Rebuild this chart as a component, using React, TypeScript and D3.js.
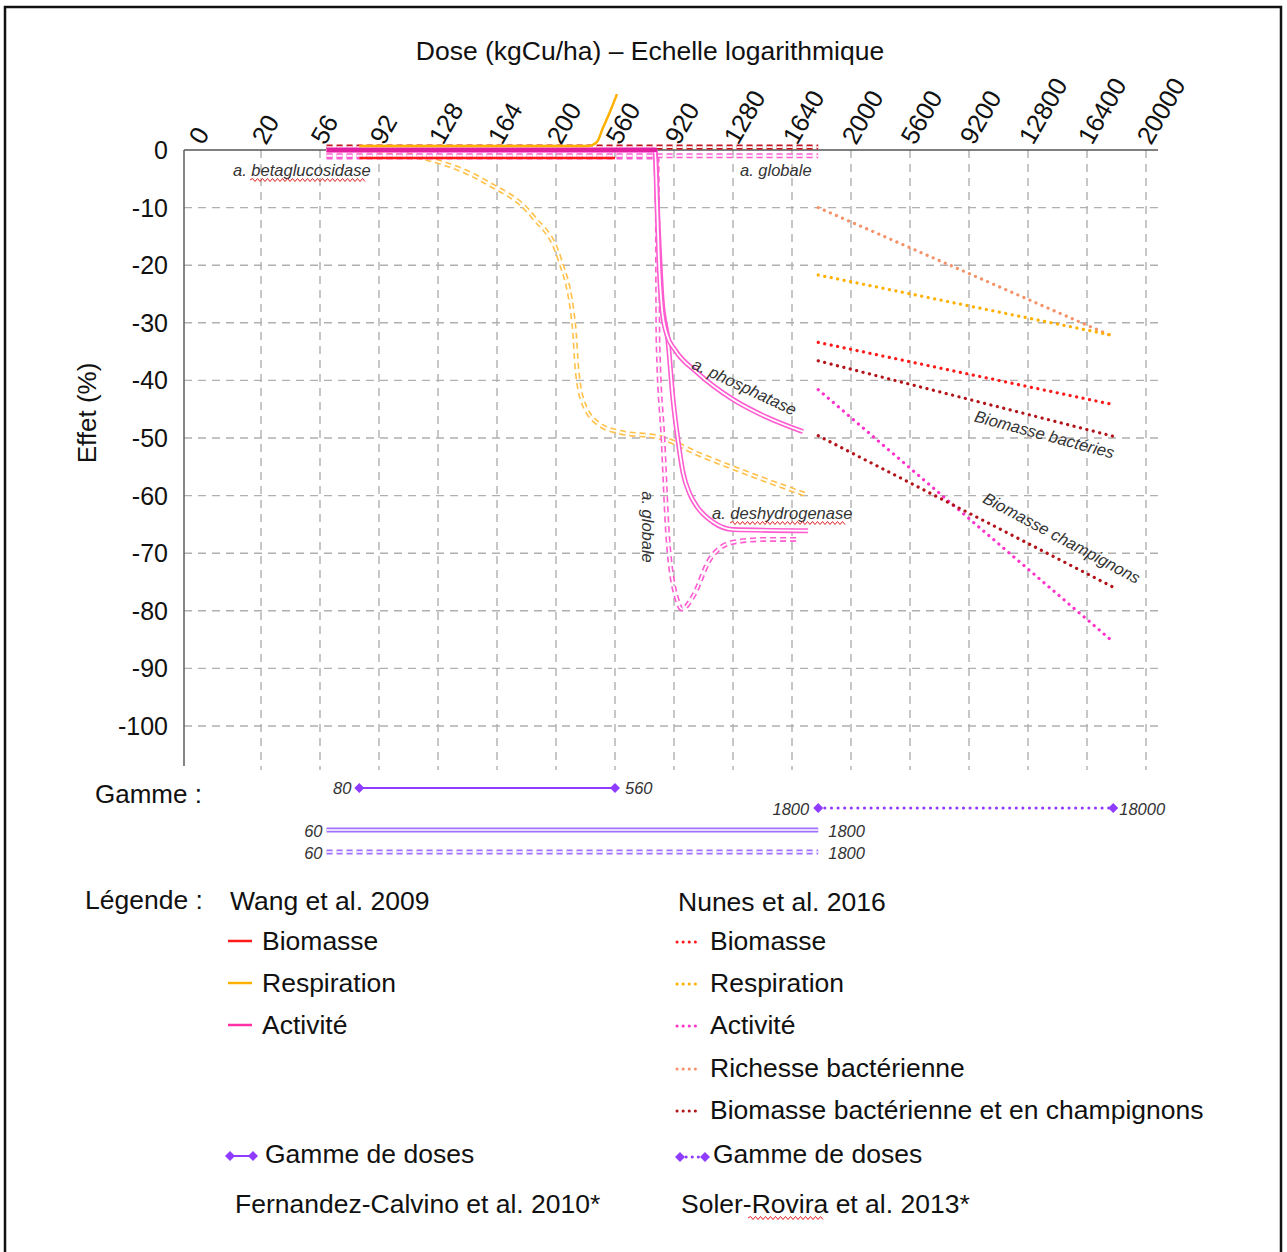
import React from 'react';
import * as d3 from 'd3';

// axe des doses (kgCu/ha) : échelle par morceaux, une graduation tous les 59 px
const xTicks = [0, 20, 56, 92, 128, 164, 200, 560, 920, 1280, 1640, 2000, 5600, 9200, 12800, 16400, 20000];
const yTicks = [0, -10, -20, -30, -40, -50, -60, -70, -80, -90, -100];

type Pt = [number, number];

// Wang et al. 2009 (trait plein)
const wangBiomasse: Pt[] = [[80, -1.4], [560, -1.4]];
const wangRespiration: Pt[] = [[80, 0.7], [400, 0.7], [450, 1.4], [486, 3.8], [529, 6.6], [572, 9.7]];
const wangActivite: Pt[] = [[60, 0], [816, 0]];

// Fernandez-Calvino et al. 2010 (double trait plein)
const fcPhosphatase: Pt[] = [[60, 0], [804, 0], [816, -8.7], [828, -19.1], [847, -27.7], [877, -32.1], [926, -34.7], [1060, -38.6], [1280, -43.3], [1487, -46.4], [1707, -48.9]];
const fcDeshydrogenase: Pt[] = [[60, 0], [804, 0], [822, -12.1], [847, -26], [883, -33], [914, -43.3], [944, -50.3], [975, -56], [1018, -59.8], [1060, -61.9], [1158, -64.6], [1280, -65.9], [1738, -66.1]];

// Soler-Rovira et al. 2013 (double tireté)
const srBiomasse: Pt[] = [[60, 0.5], [1800, 0.5]];
const srGlobale: Pt[] = [[60, -1], [1800, -1]];
const srGlobaleChute: Pt[] = [[60, -1.2], [816, -1.2], [822, -33], [853, -50.3], [883, -67.6], [938, -78], [969, -79.7], [1036, -77.5], [1140, -71], [1280, -68.1], [1487, -67.6], [1689, -67.6]];
const srRespiration: Pt[] = [[60, 0], [80, 0], [129, -2.1], [158, -5.7], [186, -11.6], [224, -19.1], [310, -30.7], [328, -38.1], [371, -44.2], [468, -47.7], [591, -49], [835, -49.9], [1079, -52.9], [1384, -56.3], [1720, -59.8]];

// Nunes et al. 2016 (pointillés)
const nunesRichesse: Pt[] = [[1800, -10], [18000, -32.4]];
const nunesRespiration: Pt[] = [[1800, -21.7], [18000, -32.2]];
const nunesBiomasse: Pt[] = [[1800, -33.4], [18000, -44.2]];
const nunesBiomBacteries: Pt[] = [[1800, -36.6], [18000, -49.7]];
const nunesActivite: Pt[] = [[1800, -41.6], [18000, -85.4]];
const nunesBiomChampignons: Pt[] = [[1800, -49.6], [18000, -75.9]];

// gammes de doses
const gammeWang: Pt = [80, 560];
const gammeNunes: Pt = [1800, 18000];
const gammeFC: Pt = [60, 1800];
const gammeSR: Pt = [60, 1800];

const FONT = '"Liberation Sans", Arial, Helvetica, sans-serif';
const RED = '#ff1a1a';
const ORANGE = '#ffb000';
const MAGENTA = '#e0209f';
const PINK = '#ff5cd0';
const SALMON = '#f4936a';
const DARKRED = '#b3141a';
const PURPLE = '#8f3cff';
const LPURPLE = '#a070ff';
const DOT = '0.1,6.5';

function DoubleLine({d, color, dash, w = 5, gap = 1.8}: any) {
    return (
        <g fill="none">
            <path d={d} stroke={color} strokeWidth={w} strokeDasharray={dash}/>
            <path d={d} stroke="#fff" strokeWidth={gap} strokeDasharray={dash}/>
        </g>
    );
}

function wavy(x0: number, x1: number, yy: number) {
    let d = `M${x0},${yy}`;
    let k = 0;
    for (let xx = x0; xx < x1; xx += 2.5) {
        d += `L${xx + 2.5},${yy + (k % 2 === 0 ? -1.5 : 1.5)}`;
        k++;
    }
    return d;
}

export default function App() {
    const xRange = xTicks.map((d, i) => (i === 0 ? 198 : 261 + (i - 1) * 59));
    const x = d3.scaleLinear().domain(xTicks).range(xRange);
    const y = d3.scaleLinear().domain([0, -100]).range([150, 726]);
    const straight = d3.line<Pt>().x(d => x(d[0])).y(d => y(d[1]));
    const smooth = d3.line<Pt>().x(d => x(d[0])).y(d => y(d[1])).curve(d3.curveMonotoneX);
    const diamond = d3.symbol().type(d3.symbolSquare).size(50)();
    const Dia = ({cx, cy}: any) => <path d={diamond} transform={`translate(${cx},${cy}) rotate(45)`} fill={PURPLE}/>;

    const left = 184, right = 1158;

    const nunes: [Pt[], string][] = [
        [nunesRichesse, SALMON],
        [nunesRespiration, ORANGE],
        [nunesBiomasse, RED],
        [nunesBiomBacteries, DARKRED],
        [nunesActivite, '#ff33cc'],
        [nunesBiomChampignons, DARKRED],
    ];

    const gammeRow = (r: Pt, yy: number, kind: string) => {
        const x0 = x(r[0]), x1 = x(r[1]);
        const d = `M${x0},${yy}L${x1},${yy}`;
        if (kind === 'double') return <DoubleLine d={d} color={LPURPLE} w={5} gap={1.6}/>;
        if (kind === 'doubledash') return <DoubleLine d={d} color={LPURPLE} w={5} gap={1.6} dash="6,4"/>;
        return (
            <g>
                <path d={d} stroke={PURPLE} strokeWidth={kind === 'dot' ? 3 : 2}
                      strokeDasharray={kind === 'dot' ? DOT : undefined} strokeLinecap="round" fill="none"/>
                <Dia cx={x0} cy={yy}/>
                <Dia cx={x1} cy={yy}/>
            </g>
        );
    };

    const legWang: [string, string, number][] = [
        ['Biomasse', RED, 950],
        ['Respiration', ORANGE, 992],
        ['Activité', '#ff2fa8', 1034],
    ];
    const legNunes: [string, string, number][] = [
        ['Biomasse', RED, 950],
        ['Respiration', ORANGE, 992],
        ['Activité', '#ff33cc', 1034],
        ['Richesse bactérienne', SALMON, 1077],
        ['Biomasse bactérienne et en champignons', DARKRED, 1119],
    ];

    return (
        <svg width={1287} height={1252} style={{position: 'absolute', left: 0, top: 0, background: '#fff'}}
             fontFamily={FONT}>
            <rect x={5} y={7} width={1276} height={1260} fill="#fff" stroke="#111" strokeWidth={2.5}/>

            {/* grille */}
            <g stroke="#b0b0b0" strokeWidth={1.4} strokeDasharray="8,6">
                {yTicks.slice(1).map(v => <line key={v} x1={left} x2={right} y1={y(v)} y2={y(v)}/>)}
                {xTicks.slice(1).map(v => <line key={v} x1={x(v)} x2={x(v)} y1={150} y2={770}/>)}
            </g>
            <line x1={left} x2={right} y1={150} y2={150} stroke="#555" strokeWidth={1.6}/>
            <line x1={left} x2={left} y1={150} y2={766} stroke="#666" strokeWidth={1.6}/>

            {/* graduations */}
            <g fontSize={25} fill="#111" textAnchor="end">
                {yTicks.map(v => <text key={v} x={168} y={y(v)} dominantBaseline="central">{v === 0 ? '0' : '-' + Math.abs(v)}</text>)}
            </g>
            <g fontSize={25.5} fill="#111">
                {xTicks.map(v => (
                    <text key={v} transform={`translate(${x(v) + 5},146) rotate(-60)`}>{v}</text>
                ))}
            </g>
            <text x={650} y={60} textAnchor="middle" fontSize={26.5} fill="#111">Dose (kgCu/ha) – Echelle logarithmique</text>
            <text transform="translate(96,413) rotate(-90)" textAnchor="middle" fontSize={26} fill="#111">Effet (%)</text>

            {/* Soler-Rovira */}
            <DoubleLine d={smooth(srRespiration)} color="#ffc04a" dash="6,4"/>
            <DoubleLine d={smooth(srGlobaleChute)} color={PINK} dash="6,4"/>
            <DoubleLine d={straight(srGlobale)} color={PINK} dash="6,4"/>
            <DoubleLine d={straight(srBiomasse)} color="#c0141e" dash="6,4"/>

            {/* Fernandez-Calvino */}
            <DoubleLine d={smooth(fcDeshydrogenase)} color={PINK}/>
            <DoubleLine d={smooth(fcPhosphatase)} color={PINK}/>

            {/* Wang */}
            <path d={straight(wangActivite)} stroke={MAGENTA} strokeWidth={4} fill="none"/>
            <path d={smooth(wangRespiration)} stroke={ORANGE} strokeWidth={2.5} fill="none"/>
            <path d={straight(wangBiomasse)} stroke={RED} strokeWidth={2.5} fill="none"/>

            {/* Nunes */}
            {nunes.map(([data, c], i) => (
                <path key={i} d={straight(data)} stroke={c} strokeWidth={3.2} strokeDasharray={DOT}
                      strokeLinecap="round" fill="none"/>
            ))}

            {/* étiquettes */}
            <g fontSize={16.5} fontStyle="italic" fill="#333">
                <text x={233} y={176}>a. betaglucosidase</text>
                <text x={740} y={176}>a. globale</text>
                <text transform="translate(742,392) rotate(25)" textAnchor="middle">a. phosphatase</text>
                <text x={712} y={519}>a. deshydrogenase</text>
                <text transform="translate(648,527) rotate(90)" textAnchor="middle" dominantBaseline="central">a. globale</text>
                <text transform="translate(1043,440) rotate(15)" textAnchor="middle">Biomasse bactéries</text>
                <text transform="translate(1059,543) rotate(28)" textAnchor="middle">Biomasse champignons</text>
            </g>
            <g stroke="#e02020" strokeWidth={1} fill="none">
                <path d={wavy(250, 364, 180)}/>
                <path d={wavy(730, 845, 523)}/>
                <path d={wavy(748, 822, 1218)}/>
            </g>

            {/* gammes */}
            <text x={95} y={803} fontSize={26} fill="#111">Gamme :</text>
            {gammeRow(gammeWang, 788, 'solid')}
            {gammeRow(gammeNunes, 808, 'dot')}
            {gammeRow(gammeFC, 830, 'double')}
            {gammeRow(gammeSR, 852, 'doubledash')}
            <g fontSize={16.5} fontStyle="italic" fill="#333" dominantBaseline="central">
                <text x={x(gammeWang[0]) - 8} y={788} textAnchor="end">{gammeWang[0]}</text>
                <text x={x(gammeWang[1]) + 10} y={788}>{gammeWang[1]}</text>
                <text x={x(gammeNunes[0]) - 9} y={809} textAnchor="end">{gammeNunes[0]}</text>
                <text x={x(gammeNunes[1]) + 6} y={809}>{gammeNunes[1]}</text>
                <text x={x(gammeFC[0]) - 4} y={831} textAnchor="end">{gammeFC[0]}</text>
                <text x={x(gammeFC[1]) + 10} y={831}>{gammeFC[1]}</text>
                <text x={x(gammeSR[0]) - 4} y={853} textAnchor="end">{gammeSR[0]}</text>
                <text x={x(gammeSR[1]) + 10} y={853}>{gammeSR[1]}</text>
            </g>

            {/* légende */}
            <g fontSize={26.5} fill="#111">
                <text x={85} y={909}>Légende :</text>
                <text x={230} y={910}>Wang et al. 2009</text>
                {legWang.map(([t, c, b]) => (
                    <g key={t}>
                        <line x1={228} x2={252} y1={b - 9} y2={b - 9} stroke={c} strokeWidth={2.5}/>
                        <text x={262} y={b}>{t}</text>
                    </g>
                ))}
                <line x1={230} x2={253} y1={1156} y2={1156} stroke={PURPLE} strokeWidth={2}/>
                <Dia cx={230} cy={1156}/>
                <Dia cx={253} cy={1156}/>
                <text x={265} y={1163}>Gamme de doses</text>
                <text x={235} y={1213}>Fernandez-Calvino et al. 2010*</text>

                <text x={678} y={911}>Nunes et al. 2016</text>
                {legNunes.map(([t, c, b]) => (
                    <g key={t}>
                        <line x1={677} x2={697} y1={b - 8} y2={b - 8} stroke={c} strokeWidth={3}
                              strokeDasharray="0.1,6" strokeLinecap="round"/>
                        <text x={710} y={b}>{t}</text>
                    </g>
                ))}
                <line x1={680} x2={705} y1={1157} y2={1157} stroke={PURPLE} strokeWidth={3}
                      strokeDasharray="0.1,6" strokeLinecap="round"/>
                <Dia cx={680} cy={1157}/>
                <Dia cx={705} cy={1157}/>
                <text x={713} y={1163}>Gamme de doses</text>
                <text x={681} y={1213}>Soler-Rovira et al. 2013*</text>
            </g>
        </svg>
    );
}
